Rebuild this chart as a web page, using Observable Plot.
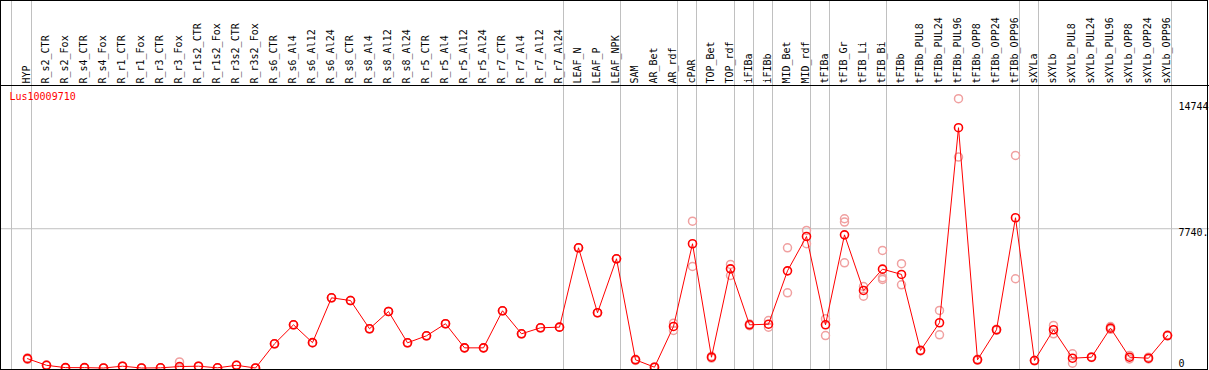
<!DOCTYPE html>
<html>
<head>
<meta charset="utf-8">
<script src="https://cdn.jsdelivr.net/npm/d3@7"></script>
<script src="https://cdn.jsdelivr.net/npm/@observablehq/plot@0.6"></script>
<style>
  html, body { margin: 0; padding: 0; background: #fff; }
  #wrap { position: relative; width: 1209px; height: 370px; }
  #box { position: absolute; left: 0; top: 0; width: 1208px; height: 370px; box-sizing: border-box; border: 1px solid #000; pointer-events: none; }
</style>
</head>
<body>
<div id="wrap"><div id="box"></div></div>
<script>
const categories = ["HYP","R_s2_CTR","R_s2_Fox","R_s4_CTR","R_s4_Fox","R_r1_CTR","R_r1_Fox","R_r3_CTR","R_r3_Fox",
  "R_r1s2_CTR","R_r1s2_Fox","R_r3s2_CTR","R_r3s2_Fox","R_s6_CTR","R_s6_Al4","R_s6_Al12","R_s6_Al24",
  "R_s8_CTR","R_s8_Al4","R_s8_Al12","R_s8_Al24","R_r5_CTR","R_r5_Al4","R_r5_Al12","R_r5_Al24",
  "R_r7_CTR","R_r7_Al4","R_r7_Al12","R_r7_Al24","LEAF_N","LEAF_P","LEAF_NPK","SAM","AR_Bet","AR_rdf",
  "cPAR","TOP_Bet","TOP_rdf","iFIBa","iFIBb","MID_Bet","MID_rdf","tFIBa","tFIB_Gr","tFIB_Li","tFIB_Bi",
  "tFIBb","tFIBb_PUL8","tFIBb_PUL24","tFIBb_PUL96","tFIBb_OPP8","tFIBb_OPP24","tFIBb_OPP96",
  "sXYLa","sXYLb","sXYLb_PUL8","sXYLb_PUL24","sXYLb_PUL96","sXYLb_OPP8","sXYLb_OPP24","sXYLb_OPP96"];

const means = [519,150,20,20,0,100,0,10,80,
  100,10,150,0,1345,2400,1410,3900,
  3750,2180,3140,1400,1790,2460,1120,1120,
  3180,1900,2235,2270,6680,3070,6070,455,45,2310,
  6905,600,5510,2400,2435,5400,7310,2400,7400,4310,5495,
  5200,975,2515,13355,455,2125,8350,
  415,2125,545,600,2215,600,545,1805];

const replicates = [[560,480],[160,140],[20,20],[20,20],[0,0],[100,100],[0,0],[10,10],[340,20],
  [100,100],[10,10],[150,150],[0,0],[1345,1345],[2400,2400],[1410,1410],[3900,3900],
  [3750,3750],[2180,2180],[3140,3140],[1400,1400],[1790,1790],[2460,2460],[1120,1120],[1120,1120],
  [3180,3180],[1900,1900],[2235,2235],[2270,2270],[6680,6680],[3070,3070],[6070,6070],[480,420],[60,30],[2490,2085],
  [8160,5640],[650,550],[5755,5140],[2450,2350],[2640,2270],[6680,4180],[7645,6905],[2735,1805],[8295,8110,5845],[3990,4530],[6535,5015,4920],
  [5795,4625],[1000,950],[3200,1845],[14970,11720],[480,430],[2150,2100],[11815,4960],
  [430,400],[2365,1900],[790,270],[620,580],[2300,2150],[700,500],[600,500],[1830,1780]];

const groupEnds = ["HYP","R_r7_Al24","LEAF_NPK","AR_rdf","cPAR","TOP_rdf","iFIBa","iFIBb","MID_rdf",
  "tFIBa","tFIB_Bi","tFIBb_OPP96","sXYLa","sXYLb_OPP96"];
const groupStart = ["HYP"];

const yTickValues = [14744, 7740];
const yTickLabels = ["14744", "7740."];
const zeroLabel = ["0"];
const geneName = "Lus10009710";

const meanData = categories.map((c, i) => ({cat: c, value: means[i]}));
const repData = categories.flatMap((c, i) => replicates[i].map(v => ({cat: c, value: v})));
const yTicks = yTickValues.map((v, i) => ({value: v, label: yTickLabels[i]}));

const font = "DejaVu Sans Mono";
const chart = Plot.plot({
  width: 1209,
  height: 370,
  marginTop: 85,
  marginBottom: 2.5,
  marginLeft: 0,
  marginRight: 0,
  style: {fontFamily: font, fontSize: "10px", background: "transparent"},
  x: {type: "point", domain: categories, range: [26.7, 1166.7], padding: 0},
  y: {domain: [0, 15700], range: [367.5, 85]},
  marks: [
    Plot.ruleX(groupEnds, {x: d => d, dx: 4, stroke: "#c0c0c0", strokeWidth: 1, insetTop: -85, insetBottom: -3}),
    Plot.ruleX(groupStart, {x: d => d, dx: -16, stroke: "#c0c0c0", strokeWidth: 1, insetTop: -85, insetBottom: -3}),
    Plot.gridY([7740], {stroke: "#c0c0c0", strokeOpacity: 1, strokeWidth: 1}),
    Plot.frame({anchor: "top", stroke: "#000", strokeWidth: 1}),
    Plot.axisX({anchor: "top", tickRotate: -90, tickSize: 0, tickPadding: 2, dx: -1, label: null, fontSize: 10, fill: "#000"}),
    Plot.axisY({ticks: [], label: null, tickSize: 0}),
    Plot.dot(repData, {x: "cat", y: "value", r: 4, stroke: "#f0a0a0", strokeWidth: 1.5, fill: "none"}),
    Plot.line(meanData, {x: "cat", y: "value", stroke: "#ff0000", strokeWidth: 1}),
    Plot.dot(meanData, {x: "cat", y: "value", r: 4, stroke: "#ff0000", strokeWidth: 1.6, fill: "none"}),
    Plot.text(yTicks, {y: "value", text: "label", frameAnchor: "right", textAnchor: "start", dx: -31, lineAnchor: "top", dy: 0, fill: "#000", fontSize: 10}),
    Plot.text(zeroLabel, {y: () => 0, text: d => d, frameAnchor: "right", textAnchor: "start", dx: -31, lineAnchor: "bottom", dy: -1, fill: "#000", fontSize: 10}),
    Plot.text([geneName], {frameAnchor: "top-left", text: d => d, textAnchor: "start", lineAnchor: "top", dx: 9, dy: 7, fill: "#ff0000", fontSize: 10})
  ]
});
document.getElementById("wrap").prepend(chart);
chart.style.position = "absolute";
chart.style.left = "0";
chart.style.top = "0";
</script>
</body>
</html>
